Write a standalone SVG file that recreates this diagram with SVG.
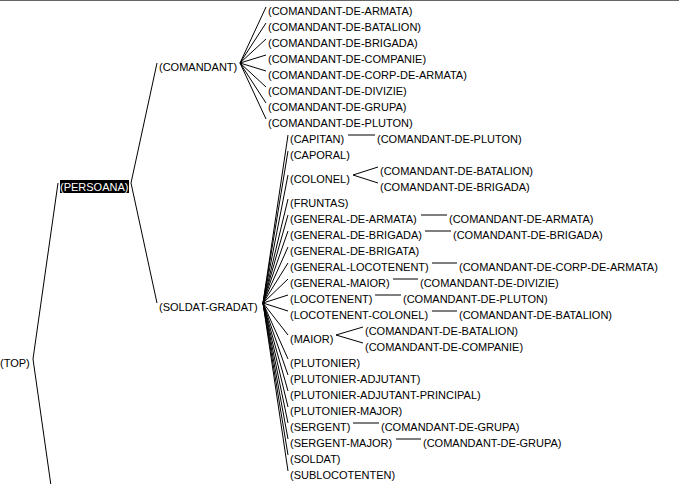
<svg xmlns="http://www.w3.org/2000/svg" width="679" height="484" viewBox="0 0 679 484">
<style>
text{font-family:"Liberation Sans",Arial,sans-serif;font-size:11px;fill:#000}
.inv{fill:#fff}
.c{stroke:#000;stroke-width:1;fill:none}
.frame{stroke:#666;stroke-width:1}
</style>
<rect x="0" y="0" width="679" height="484" fill="#fff"/>
<line class="frame" x1="0" y1="0.5" x2="679" y2="0.5"/>
<g id="connectors">
<path class="c" d="M33 359L58 183M33 359L58 535"/>
<path class="c" d="M131 183L157 63M131 183L157 303"/>
<path class="c" d="M240 63L266 7M240 63L266 23M240 63L266 39M240 63L266 55M240 63L266 71M240 63L266 87M240 63L266 103M240 63L266 119"/>
<path class="c" d="M263 303L288 135M263 303L288 151M263 303L288 175M263 303L288 199M263 303L288 215M263 303L288 231M263 303L288 247M263 303L288 263M263 303L288 279M263 303L288 295M263 303L288 311M263 303L288 335M263 303L288 359M263 303L288 375M263 303L288 391M263 303L288 407M263 303L288 423M263 303L288 439M263 303L288 455M263 303L288 471"/>
<path class="c" d="M348 135H375"/>
<path class="c" d="M353 175L378 167M353 175L378 183"/>
<path class="c" d="M421 215H447"/>
<path class="c" d="M425 231H451"/>
<path class="c" d="M432 263H457"/>
<path class="c" d="M393 279H418"/>
<path class="c" d="M375 295H401"/>
<path class="c" d="M432 311H457"/>
<path class="c" d="M336 335L363 327M336 335L363 343"/>
<path class="c" d="M353 423H379"/>
<path class="c" d="M396 439H421"/>
</g>
<g id="n-top"><text x="0" y="367">(TOP)</text></g>
<g id="n-persoana"><rect x="60" y="180" width="69" height="13" fill="#000"/><text class="inv" x="60" y="191">(PERSOANA)</text></g>
<g id="n-comandant"><text x="159" y="71">(COMANDANT)</text></g>
<g id="n-soldat-gradat"><text x="159" y="311">(SOLDAT-GRADAT)</text></g>
<g id="comandant-children">
<g id="n-c-armata"><text x="268" y="15">(COMANDANT-DE-ARMATA)</text></g>
<g id="n-c-batalion"><text x="268" y="31">(COMANDANT-DE-BATALION)</text></g>
<g id="n-c-brigada"><text x="268" y="47">(COMANDANT-DE-BRIGADA)</text></g>
<g id="n-c-companie"><text x="268" y="63">(COMANDANT-DE-COMPANIE)</text></g>
<g id="n-c-corp"><text x="268" y="79">(COMANDANT-DE-CORP-DE-ARMATA)</text></g>
<g id="n-c-divizie"><text x="268" y="95">(COMANDANT-DE-DIVIZIE)</text></g>
<g id="n-c-grupa"><text x="268" y="111">(COMANDANT-DE-GRUPA)</text></g>
<g id="n-c-pluton"><text x="268" y="127">(COMANDANT-DE-PLUTON)</text></g>
</g>
<g id="soldat-children">
<g id="n-capitan"><text x="290" y="143">(CAPITAN)</text><text x="377" y="143">(COMANDANT-DE-PLUTON)</text></g>
<g id="n-caporal"><text x="290" y="159">(CAPORAL)</text></g>
<g id="n-colonel"><text x="290" y="183">(COLONEL)</text><text x="380" y="175">(COMANDANT-DE-BATALION)</text><text x="380" y="191">(COMANDANT-DE-BRIGADA)</text></g>
<g id="n-fruntas"><text x="290" y="207">(FRUNTAS)</text></g>
<g id="n-general-de-armata"><text x="290" y="223">(GENERAL-DE-ARMATA)</text><text x="449" y="223">(COMANDANT-DE-ARMATA)</text></g>
<g id="n-general-de-brigada"><text x="290" y="239">(GENERAL-DE-BRIGADA)</text><text x="453" y="239">(COMANDANT-DE-BRIGADA)</text></g>
<g id="n-general-de-brigata"><text x="290" y="255">(GENERAL-DE-BRIGATA)</text></g>
<g id="n-general-locotenent"><text x="290" y="271">(GENERAL-LOCOTENENT)</text><text x="459" y="271">(COMANDANT-DE-CORP-DE-ARMATA)</text></g>
<g id="n-general-maior"><text x="290" y="287">(GENERAL-MAIOR)</text><text x="420" y="287">(COMANDANT-DE-DIVIZIE)</text></g>
<g id="n-locotenent"><text x="290" y="303">(LOCOTENENT)</text><text x="403" y="303">(COMANDANT-DE-PLUTON)</text></g>
<g id="n-locotenent-colonel"><text x="290" y="319">(LOCOTENENT-COLONEL)</text><text x="459" y="319">(COMANDANT-DE-BATALION)</text></g>
<g id="n-maior"><text x="290" y="343">(MAIOR)</text><text x="365" y="335">(COMANDANT-DE-BATALION)</text><text x="365" y="351">(COMANDANT-DE-COMPANIE)</text></g>
<g id="n-plutonier"><text x="290" y="367">(PLUTONIER)</text></g>
<g id="n-plutonier-adjutant"><text x="290" y="383">(PLUTONIER-ADJUTANT)</text></g>
<g id="n-plutonier-adjutant-principal"><text x="290" y="399">(PLUTONIER-ADJUTANT-PRINCIPAL)</text></g>
<g id="n-plutonier-major"><text x="290" y="415">(PLUTONIER-MAJOR)</text></g>
<g id="n-sergent"><text x="290" y="431">(SERGENT)</text><text x="381" y="431">(COMANDANT-DE-GRUPA)</text></g>
<g id="n-sergent-major"><text x="290" y="447">(SERGENT-MAJOR)</text><text x="423" y="447">(COMANDANT-DE-GRUPA)</text></g>
<g id="n-soldat"><text x="290" y="463">(SOLDAT)</text></g>
<g id="n-sublocotenten"><text x="290" y="479">(SUBLOCOTENTEN)</text></g>
</g>
</svg>
